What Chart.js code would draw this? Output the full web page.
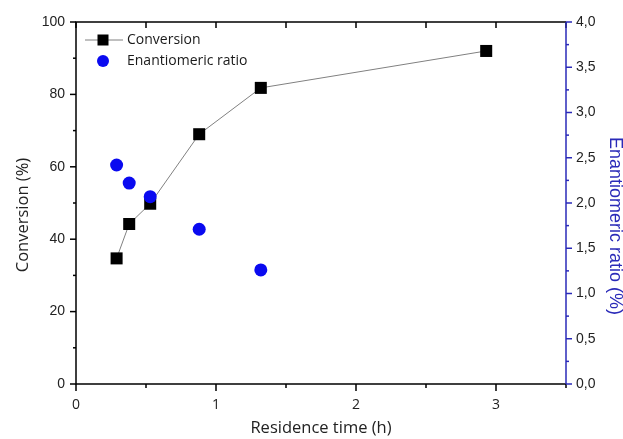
<!DOCTYPE html>
<html>
<head>
<meta charset="utf-8">
<script src="https://cdn.jsdelivr.net/npm/chart.js@4.4.1/dist/chart.umd.min.js"></script>
<style>
  html, body { margin: 0; padding: 0; background: #fff; }
  #wrap { width: 623px; height: 439px; }
</style>
</head>
<body>
<div id="wrap"><canvas id="myChart" width="623" height="439"></canvas></div>
<script>
// values
const residenceTime = [0.29, 0.38, 0.53, 0.88, 1.32, 2.93];
const conversion = [34.7, 44.2, 49.8, 69.0, 81.8, 92.0];
const erTime = [0.29, 0.38, 0.53, 0.88, 1.32];
const enantiomericRatio = [2.42, 2.22, 2.07, 1.71, 1.26];

const xTicks = [0, 1, 2, 3];
const leftTicks = [0, 20, 40, 60, 80, 100];
const rightTicks = [0, 0.5, 1, 1.5, 2, 2.5, 3, 3.5, 4];

const BLUE = '#0a0af0';
const AXIS_BLUE = '#2a2ab8';

const toPoints = (xs, ys) => xs.map((x, i) => ({ x: x, y: ys[i] }));
const near = (v, list) => list.some(t => Math.abs(t - v) < 1e-6);

// frame, ticks, side titles and the inside legend
const framePlugin = {
  id: 'frame',
  afterDraw(chart) {
    const ctx = chart.ctx;
    const { left, right, top, bottom } = chart.chartArea;
    const x = chart.scales.x, y = chart.scales.y, y2 = chart.scales.y2;
    const midY = (top + bottom) / 2;
    ctx.save();
    ctx.lineWidth = 1.5;
    ctx.strokeStyle = '#000';
    ctx.beginPath();
    ctx.moveTo(right, top); ctx.lineTo(left, top);
    ctx.lineTo(left, bottom); ctx.lineTo(right, bottom);
    ctx.stroke();

    // x ticks: bottom outward, top inward
    for (let v = 0; v <= 3.5 + 1e-9; v += 0.5) {
      const px = x.getPixelForValue(v);
      const len = near(v, xTicks) ? 7 : 4;
      ctx.beginPath();
      ctx.moveTo(px, bottom); ctx.lineTo(px, bottom + len);
      ctx.moveTo(px, top); ctx.lineTo(px, top + 6);
      ctx.stroke();
    }
    // left ticks outward
    for (let v = 0; v <= 100; v += 10) {
      const py = y.getPixelForValue(v);
      const len = near(v, leftTicks) ? 6 : 3;
      ctx.beginPath();
      ctx.moveTo(left, py); ctx.lineTo(left - len, py);
      ctx.stroke();
    }
    // right axis in blue
    ctx.strokeStyle = AXIS_BLUE;
    ctx.beginPath();
    ctx.moveTo(right, top); ctx.lineTo(right, bottom);
    ctx.stroke();
    for (let v = 0; v <= 4 + 1e-9; v += 0.25) {
      const py = y2.getPixelForValue(v);
      const len = near(v, rightTicks) ? 6 : 3;
      ctx.beginPath();
      ctx.moveTo(right, py); ctx.lineTo(right + len, py);
      ctx.stroke();
    }

    // side titles (a bit below centre, as in the original)
    ctx.textAlign = 'center';
    ctx.textBaseline = 'middle';
    ctx.save();
    ctx.translate(y.left + 23, midY + 12);
    ctx.rotate(-Math.PI / 2);
    ctx.fillStyle = '#222';
    ctx.font = '16.5px "Open Sans"';
    ctx.fillText('Conversion (%)', 0, 0);
    ctx.restore();
    ctx.save();
    ctx.translate(y2.right - 8, midY + 23);
    ctx.rotate(Math.PI / 2);
    ctx.fillStyle = AXIS_BLUE;
    ctx.font = '18px "Liberation Sans"';
    ctx.fillText('Enantiomeric ratio (%)', 0, 0);
    ctx.restore();

    // legend
    const ds = chart.data.datasets;
    const lx = left + 27, ly1 = top + 18, ly2 = top + 39;
    ctx.strokeStyle = '#808080';
    ctx.lineWidth = 1;
    ctx.beginPath();
    ctx.moveTo(lx - 18, ly1); ctx.lineTo(lx + 20, ly1);
    ctx.stroke();
    ctx.fillStyle = '#000';
    ctx.fillRect(lx - 5.5, ly1 - 5.5, 11, 11);
    ctx.fillStyle = BLUE;
    ctx.beginPath();
    ctx.arc(lx, ly2, 6, 0, Math.PI * 2);
    ctx.fill();
    ctx.fillStyle = '#1a1a1a';
    ctx.font = '14px "Open Sans"';
    ctx.textAlign = 'left';
    ctx.fillText(ds[1].label, lx + 24, ly1);
    ctx.fillText(ds[0].label, lx + 24, ly2);
    ctx.restore();
  }
};

new Chart(document.getElementById('myChart').getContext('2d'), {
  type: 'scatter',
  data: {
    datasets: [
      {
        label: 'Enantiomeric ratio',
        data: toPoints(erTime, enantiomericRatio),
        yAxisID: 'y2',
        pointStyle: 'circle',
        pointRadius: 6.5,
        pointBackgroundColor: BLUE,
        pointBorderWidth: 0,
        showLine: false,
        order: 1
      },
      {
        label: 'Conversion',
        data: toPoints(residenceTime, conversion),
        yAxisID: 'y',
        pointStyle: 'rect',
        pointRadius: 8.5,
        pointBackgroundColor: '#000',
        pointBorderWidth: 0,
        showLine: true,
        borderColor: '#808080',
        borderWidth: 1,
        order: 2
      }
    ]
  },
  options: {
    responsive: false,
    animation: false,
    layout: { padding: { top: 22, left: 0, right: 0, bottom: 0 } },
    plugins: { legend: { display: false }, tooltip: { enabled: false } },
    scales: {
      x: {
        type: 'linear',
        min: 0, max: 3.5,
        afterFit: s => { s.height = 55; },
        grid: { display: false, drawTicks: true, tickLength: 7 },
        border: { display: false },
        ticks: {
          stepSize: 0.5, autoSkip: false, maxRotation: 0, padding: 6,
          color: '#222', font: { family: 'Open Sans', size: 14 },
          callback: v => near(v, xTicks) ? String(v) : ''
        },
        title: {
          display: true, text: 'Residence time (h)', color: '#222',
          font: { family: 'Open Sans', size: 16.5, lineHeight: 1.2 },
          padding: { top: 0, bottom: 1 }
        }
      },
      y: {
        position: 'left',
        min: 0, max: 100,
        afterFit: s => { s.width = 76; },
        grid: { display: false, drawTicks: true, tickLength: 6 },
        border: { display: false },
        ticks: {
          stepSize: 10, autoSkip: false, padding: 5,
          color: '#222', font: { family: 'Liberation Sans', size: 14 },
          callback: v => near(v, leftTicks) ? String(v) : ''
        },
        title: { display: false }
      },
      y2: {
        position: 'right',
        min: 0, max: 4,
        afterFit: s => { s.width = 57; },
        grid: { display: false, drawTicks: true, tickLength: 5 },
        border: { display: false },
        ticks: {
          stepSize: 0.25, autoSkip: false, padding: 5,
          color: '#222', font: { family: 'Liberation Sans', size: 14 },
          callback: v => near(v, rightTicks) ? v.toFixed(1).replace('.', ',') : ''
        },
        title: { display: false }
      }
    }
  },
  plugins: [framePlugin]
});
</script>
</body>
</html>
